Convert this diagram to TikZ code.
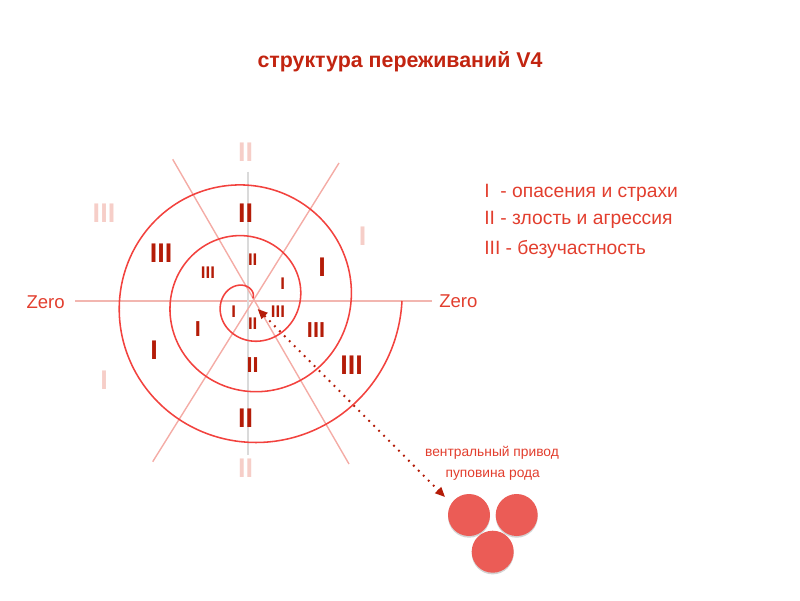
\documentclass[tikz,border=0pt]{standalone}
\usepackage{fontspec}
\setmainfont{Liberation Sans}
\usetikzlibrary{arrows.meta,shadows}
\definecolor{titlered}{RGB}{194,36,16}
\definecolor{numred}{RGB}{180,28,8}
\definecolor{textred}{RGB}{226,62,46}
\definecolor{spiralred}{RGB}{242,66,62}
\definecolor{faintred}{RGB}{246,206,200}
\definecolor{diagpink}{RGB}{244,172,166}
\definecolor{axispink}{RGB}{242,182,176}
\definecolor{axisgray}{RGB}{218,218,218}
\definecolor{blobred}{RGB}{235,92,86}

\begin{document}
\begin{tikzpicture}[x=0.025cm,y=0.025cm, every node/.style={inner sep=0pt}]
  \tikzstyle{bignum}=[text=numred, font=\fontsize{19.2}{20}\selectfont\bfseries]
  \tikzstyle{midnum}=[text=numred, font=\fontsize{15.4}{16}\selectfont\bfseries]
  \tikzstyle{smallnum}=[text=numred, font=\fontsize{12}{13}\selectfont\bfseries]
  \tikzstyle{ghostnum}=[text=faintred, font=\fontsize{19.2}{20}\selectfont\bfseries]
  \tikzstyle{legend}=[text=textred, anchor=west, font=\fontsize{13.7}{15}\selectfont]
  \tikzstyle{zerotext}=[text=textred, font=\fontsize{13.2}{15}\selectfont]
  \tikzstyle{cordtext}=[text=textred, font=\fontsize{9.8}{12}\selectfont]
  \tikzstyle{blob}=[circle, fill=blobred, minimum size=1.05cm,
    drop shadow={opacity=0.35, shadow xshift=0pt, shadow yshift=-1.2pt}]
  \useasboundingbox (0,0) rectangle (800,600);

  \node[text=titlered, font=\fontsize{15.2}{17}\selectfont\bfseries] (title) at (400,538.3) {структура переживаний V4};

  \node[legend] (fear) at (484,407.3) {I\ \ - опасения и страхи};
  \node[legend] (anger) at (484,380) {II - злость и агрессия};
  \node[legend] (apathy) at (484,351) {III - безучастность};

  \coordinate (core) at (248,299);
  \coordinate (wleft) at (75,299);
  \coordinate (wright) at (432,299);
  \draw[axispink, line width=1.3pt] (wleft) -- (wright);
  \draw[axisgray, line width=1pt] (248,428.3) -- (248,145);
  \draw[diagpink, line width=1pt] (172.7,440.7) -- (349,136);
  \draw[diagpink, line width=1pt] (339,437) -- (152.7,138.3);
  \node[zerotext, anchor=east] (zl) at (65,298) {Zero};
  \node[zerotext, anchor=west] (zr) at (439,299) {Zero};

  \draw[spiralred, line width=1.1pt, smooth, samples=400, domain=30:1080, variable=\t]
    plot ({248+(1.27+0.1414*\t)*cos(\t)}, {299+(1.27+0.1414*\t)*sin(\t)});

  \node[ghostnum] (g1) at (245.7,447.3) {II};
  \node[ghostnum] (g2) at (104,387) {III};
  \node[ghostnum] (g3) at (362.7,363.3) {I};
  \node[ghostnum] (g4) at (104,219.3) {I};
  \node[ghostnum] (g5) at (245.7,132) {II};

  \node[bignum] (o1) at (245.7,386.3) {II};
  \node[bignum] (o2) at (161,347) {III};
  \node[bignum] (o3) at (322,333) {I};
  \node[bignum] (o4) at (154,250) {I};
  \node[bignum] (o5) at (351.7,235) {III};
  \node[bignum] (o6) at (245.7,182) {II};

  \node[midnum] (m1) at (252.7,235) {II};
  \node[midnum] (m2) at (316,270) {III};
  \node[midnum] (m3) at (198,271) {I};

  \node[smallnum] (s1) at (252.7,340) {II};
  \node[smallnum] (s2) at (208,327) {III};
  \node[smallnum] (s3) at (282.7,316) {I};
  \node[smallnum] (s4) at (233.7,288) {I};
  \node[smallnum] (s5) at (278,288) {III};
  \node[smallnum] (s6) at (252.7,276) {II};

  \node[cordtext] (drv) at (492,146.7) {вентральный привод};
  \node[cordtext] (cord) at (492.7,125) {пуповина рода};

  \node[blob] (b1) at (469,85) {};
  \node[blob] (b2) at (516.7,85) {};
  \node[blob] (b3) at (492.7,48.3) {};

  \coordinate (hub) at (257.7,291);
  \coordinate (sink) at (445,103);
  \draw[numred, line width=1.4pt, dash pattern=on 1.3pt off 3.7pt,
    {Triangle[length=7pt,width=6pt]}-{Triangle[length=7pt,width=6pt]}] (hub) -- (sink);
\end{tikzpicture}
\end{document}
